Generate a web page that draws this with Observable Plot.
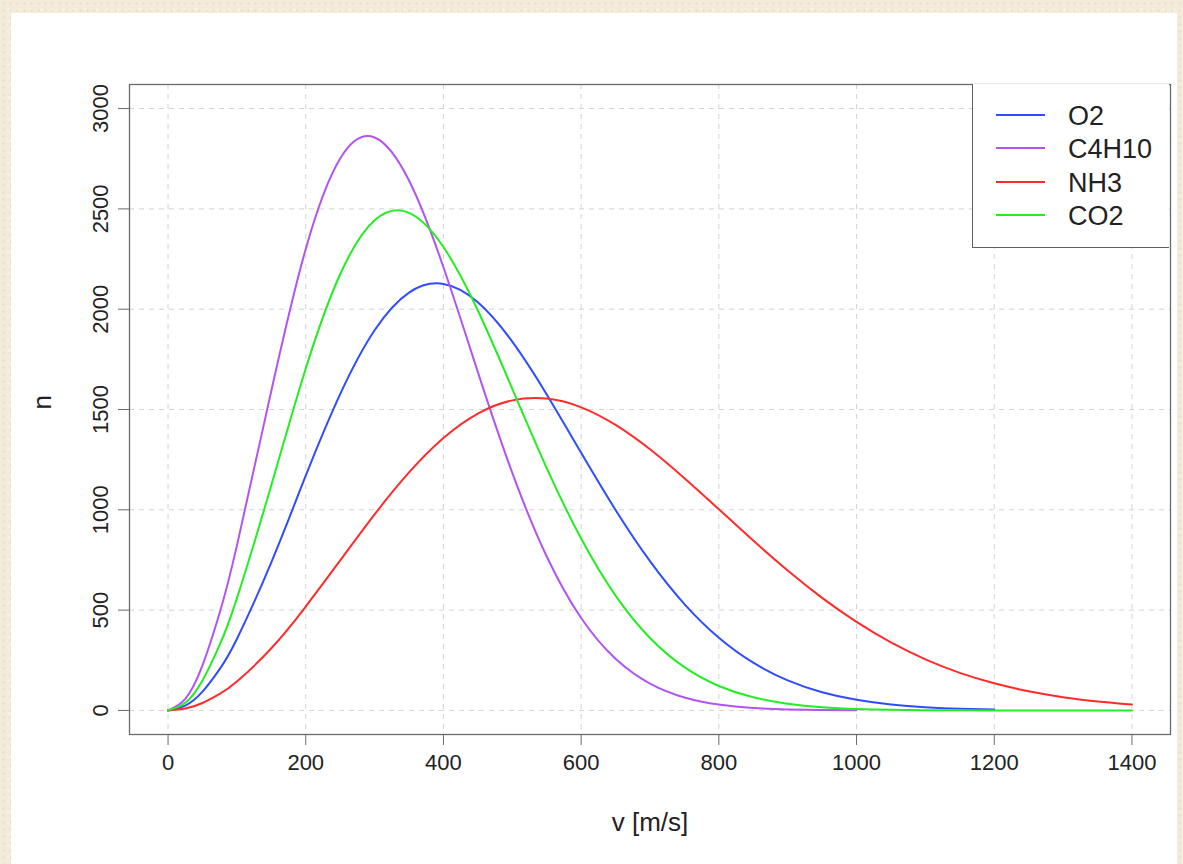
<!DOCTYPE html>
<html>
<head>
<meta charset="utf-8">
<script src="https://cdn.jsdelivr.net/npm/d3@7"></script>
<script src="https://cdn.jsdelivr.net/npm/@observablehq/plot@0.6"></script>
<style>
  html, body { margin: 0; padding: 0; }
  body {
    width: 1183px; height: 864px; overflow: hidden;
    background-color: #f4ecda;
    background-image:
      radial-gradient(rgba(200,180,140,0.18) 1px, transparent 1.5px),
      radial-gradient(rgba(255,255,255,0.35) 1px, transparent 1.5px);
    background-size: 7px 7px, 11px 11px;
    background-position: 0 0, 3px 4px;
    font-family: "Liberation Sans", Arial, sans-serif;
  }
  #card { position: absolute; left: 11px; top: 13px; width: 1166px; height: 851px; background: #fff; }
  #chart { position: absolute; left: 0; top: 0; }
  #legend {
    position: absolute; left: 972px; top: 84px; width: 197px; height: 164px;
    border: 1.3px solid #606060; border-top: none; border-right: none; box-sizing: border-box; background: #fff;
  }
  .lg-row { position: absolute; left: 0; height: 0; }
  .lg-line { position: absolute; left: 23px; width: 49px; height: 2px; top: -1px; }
  .lg-text { position: absolute; left: 95px; top: -15px; font-size: 27px; line-height: 32px; color: #222; white-space: nowrap; }
</style>
</head>
<body>
<div id="card"></div>
<div id="chart"></div>
<div id="legend"></div>
<script>
// ---- data ----
const seriesNames = ["O2", "C4H10", "NH3", "CO2"];
const seriesColors = ["#2f4cff", "#b255f0", "#ff2b2b", "#22ee22"];

// speeds v [m/s]
const speeds = [0, 25, 50, 75, 100, 150, 200, 250, 300, 350, 400, 450, 500, 550, 600, 650, 700,
                750, 800, 850, 900, 950, 1000, 1050, 1100, 1150, 1200, 1250, 1300, 1350, 1400];

const nO2 = [0, 23.7, 93.6, 206.2, 356.2, 738.3, 1169.9, 1576.6, 1894.9, 2082.8, 2126.0, 2034.8, 1838.2,
             1575.2, 1284.5, 999.4, 743.9, 530.1, 362.3, 237.9, 149.9, 91.0, 53.1, 29.8,
             16.2, 8.4, 4.2];
const nC4H10 = [0, 57.4, 224.6, 486.8, 821.6, 1593.3, 2300.3, 2750.6, 2856.0, 2641.4, 2209.0, 1686.5,
                1183.7, 767.3, 460.8, 257.3, 133.7, 64.8, 29.4, 12.4, 4.9, 1.8, 0.6];
const nNH3 = [0, 9.3, 36.9, 82.2, 143.9, 309.8, 517.9, 747.5, 977.2, 1186.3, 1357.8, 1479.7, 1545.5,
              1554.4, 1510.9, 1423.1, 1301.5, 1157.4, 1002.7, 846.6, 697.5, 561.2, 441.2,
              339.0, 254.8, 187.4, 135.1, 95.2, 65.7, 44.5, 29.5];
const nCO2 = [0, 38.0, 149.4, 326.8, 558.5, 1122.6, 1704.2, 2174.0, 2443.0, 2480.5, 2310.2, 1993.3, 1603.3,
              1208.2, 856.5, 572.0, 360.9, 215.5, 121.8, 65.3, 33.3, 16.1, 7.4, 3.2, 1.3,
              0.5, 0.2, 0.1, 0, 0, 0];

const xTicks = [0, 200, 400, 600, 800, 1000, 1200, 1400];
const yTicks = [0, 500, 1000, 1500, 2000, 2500, 3000];
const xLabel = "v [m/s]";
const yLabel = "n";

// ---- build rows ----
const seriesValues = [nO2, nC4H10, nNH3, nCO2];
const seriesRows = seriesNames.map((name, i) =>
  seriesValues[i].map((n, j) => ({series: name, v: speeds[j], n})));

const font = "'Liberation Sans', Arial, sans-serif";
const plain = d => String(d);

const chart = Plot.plot({
  width: 1183,
  height: 864,
  marginLeft: 129,
  marginRight: 13,
  marginTop: 84,
  marginBottom: 130,
  style: {background: "transparent", fontFamily: font, color: "#222"},
  x: {domain: [-56, 1456]},
  y: {domain: [-120, 3120]},
  color: {domain: seriesNames, range: seriesColors},
  marks: [
    Plot.gridX(xTicks, {stroke: "#d3d3d3", strokeOpacity: 1, strokeDasharray: "5,5"}),
    Plot.gridY(yTicks, {stroke: "#d3d3d3", strokeOpacity: 1, strokeDasharray: "5,5"}),
    ...seriesRows.map(rows =>
      Plot.lineY(rows, {x: "v", y: "n", stroke: "series", strokeWidth: 2, curve: "natural"})),
    Plot.frame({stroke: "#6a6a6a", strokeWidth: 1.3}),
    Plot.axisX(xTicks, {tickSize: 11, tickPadding: 9, fontSize: 22, tickFormat: plain, stroke: "#6a6a6a", color: "#222", label: null}),
    Plot.axisY(yTicks, {tickSize: 11, tickPadding: 11, tickRotate: -90, fontSize: 22, tickFormat: plain, stroke: "#6a6a6a", color: "#222", label: null}),
    Plot.text([xLabel], {text: d => d, frameAnchor: "bottom", dy: 88, fontSize: 26, fill: "#222", lineAnchor: "middle"}),
    Plot.text([yLabel], {text: d => d, frameAnchor: "left", dx: -87, rotate: -90, fontSize: 26, fill: "#222", lineAnchor: "middle"})
  ]
});
document.getElementById("chart").appendChild(chart);

// ---- legend ----
const legend = document.getElementById("legend");
seriesNames.forEach((name, i) => {
  const row = document.createElement("div");
  row.className = "lg-row";
  row.style.top = (31 + i * 33.4) + "px";
  const line = document.createElement("div");
  line.className = "lg-line";
  line.style.background = seriesColors[i];
  const txt = document.createElement("div");
  txt.className = "lg-text";
  txt.textContent = name;
  row.appendChild(line);
  row.appendChild(txt);
  legend.appendChild(row);
});
</script>
</body>
</html>
